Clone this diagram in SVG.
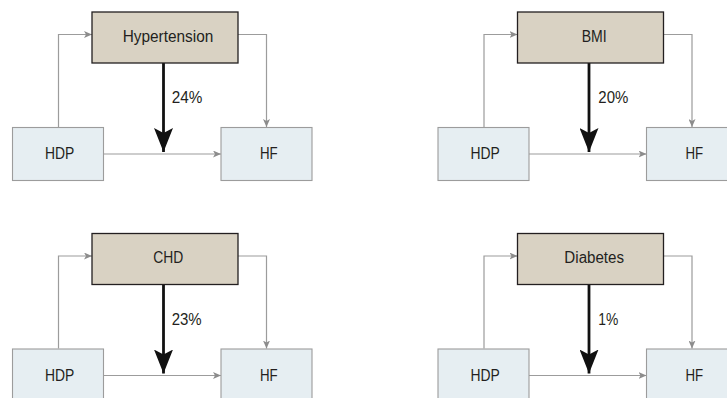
<svg xmlns="http://www.w3.org/2000/svg" width="727" height="398" viewBox="0 0 727 398">
<style>
  .med { fill: #d9d2c3; stroke: #231f20; stroke-width: 1.3; }
  .end { fill: #e6eef2; stroke: #9c9c9c; stroke-width: 1.1; }
  .lbl { font-family: "Liberation Sans", Arial, sans-serif; font-size: 16px; fill: #231f20; text-anchor: middle; }
  .big { font-size: 17px; }
  .pct { font-family: "Liberation Sans", Arial, sans-serif; font-size: 16px; fill: #231f20; text-anchor: start; }
  .thin { fill: none; stroke: #9c9c9c; stroke-width: 1.2; marker-end: url(#ga); }
  .thick { fill: none; stroke: #111; stroke-width: 2.8; marker-end: url(#ba); }
</style>
<defs>
  <marker id="ga" markerUnits="userSpaceOnUse" markerWidth="8" markerHeight="7" refX="8" refY="3.5" orient="auto">
    <path d="M0,0 L8,3.5 L0,7 L2,3.5 z" fill="#8c8c8c"/>
  </marker>
  <marker id="ba" markerUnits="userSpaceOnUse" markerWidth="24" markerHeight="19" refX="24" refY="9.5" orient="auto">
    <path d="M0,0 L24,9.5 L0,19 L5,9.5 z" fill="#111"/>
  </marker>
</defs>

<!-- Panel 1 -->
<g transform="translate(0,0)">
  <g id="connectors-1">
    <path class="thin" d="M58.5,127 V34.5 H92"/>
    <path class="thin" d="M238,34.5 H266.5 V127"/>
    <path class="thin" d="M103,154 H221"/>
    <path class="thick" d="M163.5,63 V152"/>
    <text class="pct" x="171.7" y="103.3" textLength="30.6" lengthAdjust="spacingAndGlyphs">24%</text>
  </g>
  <g id="hypertension"><rect class="med" x="92" y="12" width="146" height="51"/><text class="lbl" x="168" y="41.7" textLength="90.6" lengthAdjust="spacingAndGlyphs">Hypertension</text></g>
  <g id="hdp-1"><rect class="end" x="12.5" y="127.5" width="91" height="53"/><text class="lbl big" x="59.7" y="159.3" textLength="29.3" lengthAdjust="spacingAndGlyphs">HDP</text></g>
  <g id="hf-1"><rect class="end" x="221" y="127.5" width="91" height="53"/><text class="lbl big" x="268.8" y="159.3" textLength="17.7" lengthAdjust="spacingAndGlyphs">HF</text></g>
</g>

<!-- Panel 2 -->
<g transform="translate(425.5,0)">
  <g id="connectors-2">
    <path class="thin" d="M58.5,127 V34.5 H92"/>
    <path class="thin" d="M238,34.5 H266.5 V127"/>
    <path class="thin" d="M103,154 H221"/>
    <path class="thick" d="M163.5,63 V152"/>
    <text class="pct" x="172.8" y="103.3" textLength="30" lengthAdjust="spacingAndGlyphs">20%</text>
  </g>
  <g id="bmi"><rect class="med" x="92" y="12" width="146" height="51"/><text class="lbl" x="168.7" y="41.7" textLength="25" lengthAdjust="spacingAndGlyphs">BMI</text></g>
  <g id="hdp-2"><rect class="end" x="12.5" y="127.5" width="91" height="53"/><text class="lbl big" x="59.7" y="159.3" textLength="29.3" lengthAdjust="spacingAndGlyphs">HDP</text></g>
  <g id="hf-2"><rect class="end" x="221" y="127.5" width="91" height="53"/><text class="lbl big" x="268.8" y="159.3" textLength="17.7" lengthAdjust="spacingAndGlyphs">HF</text></g>
</g>

<!-- Panel 3 -->
<g transform="translate(0,221.5)">
  <g id="connectors-3">
    <path class="thin" d="M58.5,127 V34.5 H92"/>
    <path class="thin" d="M238,34.5 H266.5 V127"/>
    <path class="thin" d="M103,154 H221"/>
    <path class="thick" d="M163.5,63 V152"/>
    <text class="pct" x="171.7" y="103" textLength="30" lengthAdjust="spacingAndGlyphs">23%</text>
  </g>
  <g id="chd"><rect class="med" x="92" y="12" width="146" height="51"/><text class="lbl" x="168.3" y="41.7" textLength="30" lengthAdjust="spacingAndGlyphs">CHD</text></g>
  <g id="hdp-3"><rect class="end" x="12.5" y="127.5" width="91" height="53"/><text class="lbl big" x="59.7" y="159.3" textLength="29.3" lengthAdjust="spacingAndGlyphs">HDP</text></g>
  <g id="hf-3"><rect class="end" x="221" y="127.5" width="91" height="53"/><text class="lbl big" x="268.8" y="159.3" textLength="17.7" lengthAdjust="spacingAndGlyphs">HF</text></g>
</g>

<!-- Panel 4 -->
<g transform="translate(425.5,221.5)">
  <g id="connectors-4">
    <path class="thin" d="M58.5,127 V34.5 H92"/>
    <path class="thin" d="M238,34.5 H266.5 V127"/>
    <path class="thin" d="M103,154 H221"/>
    <path class="thick" d="M163.5,63 V152"/>
    <text class="pct" x="172.8" y="103" textLength="20" lengthAdjust="spacingAndGlyphs">1%</text>
  </g>
  <g id="diabetes"><rect class="med" x="92" y="12" width="146" height="51"/><text class="lbl" x="168.7" y="41.7" textLength="59.7" lengthAdjust="spacingAndGlyphs">Diabetes</text></g>
  <g id="hdp-4"><rect class="end" x="12.5" y="127.5" width="91" height="53"/><text class="lbl big" x="59.7" y="159.3" textLength="29.3" lengthAdjust="spacingAndGlyphs">HDP</text></g>
  <g id="hf-4"><rect class="end" x="221" y="127.5" width="91" height="53"/><text class="lbl big" x="268.8" y="159.3" textLength="17.7" lengthAdjust="spacingAndGlyphs">HF</text></g>
</g>
</svg>
